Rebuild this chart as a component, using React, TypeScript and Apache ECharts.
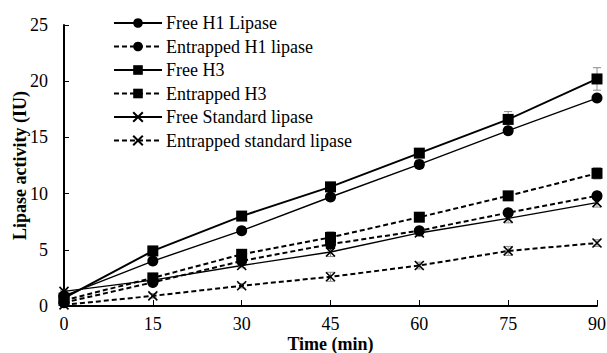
import React, { useEffect, useRef } from "react";
import * as echarts from "echarts";

const times = [0, 15, 30, 45, 60, 75, 90];
const seriesNames = [
  "Free H1 Lipase",
  "Entrapped H1 lipase",
  "Free H3",
  "Entrapped H3",
  "Free Standard lipase",
  "Entrapped standard lipase",
];
const freeH1 = [0.9, 4.0, 6.7, 9.7, 12.6, 15.6, 18.5];
const entrappedH1 = [0.3, 2.1, 4.0, 5.5, 6.7, 8.3, 9.8];
const freeH3 = [0.7, 4.9, 8.0, 10.6, 13.6, 16.6, 20.2];
const entrappedH3 = [0.5, 2.5, 4.6, 6.1, 7.9, 9.8, 11.8];
const freeStd = [1.3, 2.3, 3.6, 4.8, 6.5, 7.8, 9.2];
const entrappedStd = [0.1, 0.9, 1.8, 2.6, 3.6, 4.9, 5.6];

const errFreeH1 = [0, 0.2, 0.2, 0.3, 0.3, 0.3, 0.3];
const errEntrappedH1 = [0, 0.1, 0.2, 0.3, 0.2, 0.3, 0.3];
const errFreeH3 = [0, 0.2, 0.2, 0.3, 0.4, 0.7, 1.0];
const errEntrappedH3 = [0, 0.1, 0.2, 0.5, 0.2, 0.3, 0.5];
const errFreeStd = [0.1, 0.2, 0.2, 0.4, 0.3, 0.4, 0.4];
const errEntrappedStd = [0, 0.2, 0.2, 0.4, 0.3, 0.4, 0.3];

const xTicks = [0, 15, 30, 45, 60, 75, 90];
const yTicks = [0, 5, 10, 15, 20, 25];

const FONT = "Liberation Serif";
const CROSS = "path://M0,0L10,10M10,0L0,10";

export default function App() {
  const ref = useRef<HTMLDivElement>(null);
  useEffect(() => {
    if (!ref.current) return;
    const chart = echarts.init(ref.current, undefined, { renderer: "svg" });

    const values = [freeH1, entrappedH1, freeH3, entrappedH3, freeStd, entrappedStd];
    const errs = [errFreeH1, errEntrappedH1, errFreeH3, errEntrappedH3, errFreeStd, errEntrappedStd];
    const dashed = [false, true, false, true, false, true];
    const symbols = ["circle", "circle", "rect", "rect", CROSS, CROSS];
    const widths = [1.4, 2, 2, 2, 1.4, 2];

    const lineSeries: any[] = values.map((vals, i) => {
      const isCross = symbols[i] === CROSS;
      return {
        name: seriesNames[i],
        type: "line",
        data: times.map((t, j) => [t, vals[j]]),
        symbol: symbols[i],
        symbolSize: isCross ? 9 : 11,
        showAllSymbol: true,
        z: 3,
        lineStyle: {
          color: "#000",
          width: widths[i],
          type: dashed[i] ? [5, 3] : "solid",
        },
        itemStyle: isCross
          ? { color: "transparent", borderColor: "#000", borderWidth: 1.6 }
          : { color: "#000", borderWidth: 0 },
      };
    });

    const errSeries: any[] = values.map((vals, i) => ({
      name: "err" + i,
      type: "custom",
      z: 2,
      silent: true,
      data: times.map((t, j) => [t, vals[j], errs[i][j]]),
      encode: { x: 0, y: 1 },
      renderItem: (params: any, api: any) => {
        const x = api.value(0);
        const y = api.value(1);
        const e = api.value(2);
        const top = api.coord([x, y + e]);
        const bot = api.coord([x, y - e]);
        const cap = 4;
        const st = { stroke: "#8c8c8c", lineWidth: 1 };
        return {
          type: "group",
          children: [
            { type: "line", shape: { x1: top[0], y1: top[1], x2: bot[0], y2: bot[1] }, style: st },
            { type: "line", shape: { x1: top[0] - cap, y1: top[1], x2: top[0] + cap, y2: top[1] }, style: st },
            { type: "line", shape: { x1: bot[0] - cap, y1: bot[1], x2: bot[0] + cap, y2: bot[1] }, style: st },
          ],
        };
      },
    }));

    chart.setOption({
      animation: false,
      textStyle: { fontFamily: FONT },
      grid: { left: 64, right: 10, top: 25, bottom: 47, containLabel: false, outerBoundsMode: "none" },
      legend: {
        data: seriesNames,
        orient: "vertical",
        left: 113,
        top: 14,
        padding: 0,
        itemWidth: 48,
        itemHeight: 12,
        itemGap: 5.5,
        textStyle: { fontFamily: FONT, fontSize: 18, color: "#000", lineHeight: 18, padding: [0, 0, 0, -1] },
      },
      xAxis: {
        type: "value",
        min: xTicks[0],
        max: xTicks[xTicks.length - 1],
        interval: 15,
        name: "Time (min)",
        nameLocation: "middle",
        nameGap: 29,
        nameMoveOverlap: false,
        nameTextStyle: { fontFamily: FONT, fontSize: 18, fontWeight: "bold", color: "#000", lineHeight: 18 },
        axisLine: { lineStyle: { color: "#000", width: 2 } },
        axisTick: { show: true, inside: true, length: 6, lineStyle: { color: "#000", width: 1 } },
        axisLabel: { fontFamily: FONT, fontSize: 18, color: "#000", margin: 9, lineHeight: 18 },
        splitLine: { show: false },
      },
      yAxis: {
        type: "value",
        min: yTicks[0],
        max: yTicks[yTicks.length - 1],
        interval: 5,
        name: "Lipase activity (IU)",
        nameLocation: "middle",
        nameGap: 35,
        nameMoveOverlap: false,
        nameTextStyle: { fontFamily: FONT, fontSize: 18, fontWeight: "bold", color: "#000" },
        axisLine: { show: true, lineStyle: { color: "#000", width: 2 } },
        axisTick: { show: true, inside: true, length: 5, lineStyle: { color: "#000", width: 1 } },
        axisLabel: { fontFamily: FONT, fontSize: 18, color: "#000", margin: 16 },
        splitLine: { show: false },
      },
      series: [...errSeries, ...lineSeries],
    });
    return () => chart.dispose();
  }, []);
  return <div ref={ref} style={{ width: 607, height: 353, position: "absolute", left: 0, top: 0 }} />;
}
